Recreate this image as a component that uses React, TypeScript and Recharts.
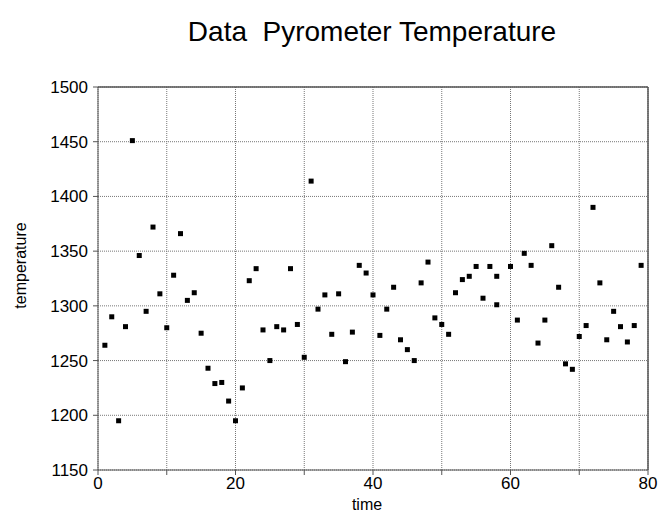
import React from 'react';
import {
  CartesianGrid,
  Label,
  ReferenceLine,
  Scatter,
  ScatterChart,
  XAxis,
  YAxis,
} from 'recharts';

const times = [
  1, 2, 3, 4, 5, 6, 7, 8, 9, 10, 11, 12, 13, 14, 15, 16, 17, 18, 19, 20,
  21, 22, 23, 24, 25, 26, 27, 28, 29, 30, 31, 32, 33, 34, 35, 36, 37, 38, 39, 40,
  41, 42, 43, 44, 45, 46, 47, 48, 49, 50, 51, 52, 53, 54, 55, 56, 57, 58, 58, 60,
  61, 62, 63, 64, 65, 66, 67, 68, 69, 70, 71, 72, 73, 74, 75, 76, 77, 78, 79,
];

const temperatures = [
  1264, 1290, 1195, 1281, 1451, 1346, 1295, 1372, 1311, 1280, 1328, 1366, 1305, 1312, 1275, 1243, 1229, 1230, 1213, 1195,
  1225, 1323, 1334, 1278, 1250, 1281, 1278, 1334, 1283, 1253, 1414, 1297, 1310, 1274, 1311, 1249, 1276, 1337, 1330, 1310,
  1273, 1297, 1317, 1269, 1260, 1250, 1321, 1340, 1289, 1283, 1274, 1312, 1324, 1327, 1336, 1307, 1336, 1327, 1301, 1336,
  1287, 1348, 1337, 1266, 1287, 1355, 1317, 1247, 1242, 1272, 1282, 1390, 1321, 1269, 1295, 1281, 1267, 1282, 1337,
];

const xTicks = [0, 10, 20, 30, 40, 50, 60, 70, 80];
const yTicks = [1150, 1200, 1250, 1300, 1350, 1400, 1450, 1500];

const points = times.map((t, i) => ({ time: t, temperature: temperatures[i] }));

const FONT = '"Liberation Sans", Arial, sans-serif';

const SquareDot = (props: any) => {
  const { cx, cy } = props;
  return <rect x={cx - 2.5} y={cy - 2.5} width={5} height={5} fill="#000" />;
};

export default function App() {
  return (
    <div style={{ position: 'absolute', left: 0, top: 0, width: 660, height: 514, fontFamily: FONT }}>
      <div
        style={{
          position: 'absolute',
          left: 172,
          top: 18,
          width: 400,
          textAlign: 'center',
          fontSize: 28,
          lineHeight: '28px',
          color: '#000',
        }}
      >
        Data&nbsp; Pyrometer Temperature
      </div>
      <ScatterChart
        width={660}
        height={514}
        margin={{ top: 87, right: 12, bottom: 14, left: 38 }}
      >
        <CartesianGrid stroke="#777" strokeDasharray="1 1" />
        <XAxis
          type="number"
          dataKey="time"
          domain={[0, 80]}
          ticks={xTicks}
          interval={0}
          height={30}
          stroke="#555"
          tick={{ fill: '#000', fontSize: 17, fontFamily: FONT }}
          tickFormatter={(v: number) => (v % 20 === 0 ? String(v) : '')}
          tickSize={5}
          tickMargin={2}
        >
          <Label
            content={(p: any) => {
              const vb = p.viewBox;
              return (
                <text
                  x={vb.x + vb.width / 2 - 6}
                  y={510}
                  textAnchor="middle"
                  fontSize={16}
                  fontFamily={FONT}
                  fill="#000"
                >
                  time
                </text>
              );
            }}
          />
        </XAxis>
        <YAxis
          type="number"
          dataKey="temperature"
          domain={[1150, 1500]}
          ticks={yTicks}
          interval={0}
          width={60}
          stroke="#555"
          tick={{ fill: '#000', fontSize: 17, fontFamily: FONT }}
          tickSize={5}
          tickMargin={5}
        >
          <Label
            content={(p: any) => {
              const vb = p.viewBox;
              const cy = vb.y + vb.height / 2 - 13;
              return (
                <text
                  x={26}
                  y={cy}
                  transform={`rotate(-90 26 ${cy})`}
                  textAnchor="middle"
                  fontSize={16}
                  fontFamily={FONT}
                  fill="#000"
                >
                  temperature
                </text>
              );
            }}
          />
        </YAxis>
        <ReferenceLine y={1500} stroke="#555" strokeWidth={1.5} />
        <ReferenceLine x={80} stroke="#555" strokeWidth={1.5} />
        <Scatter data={points} shape={SquareDot} isAnimationActive={false} />
      </ScatterChart>
    </div>
  );
}
